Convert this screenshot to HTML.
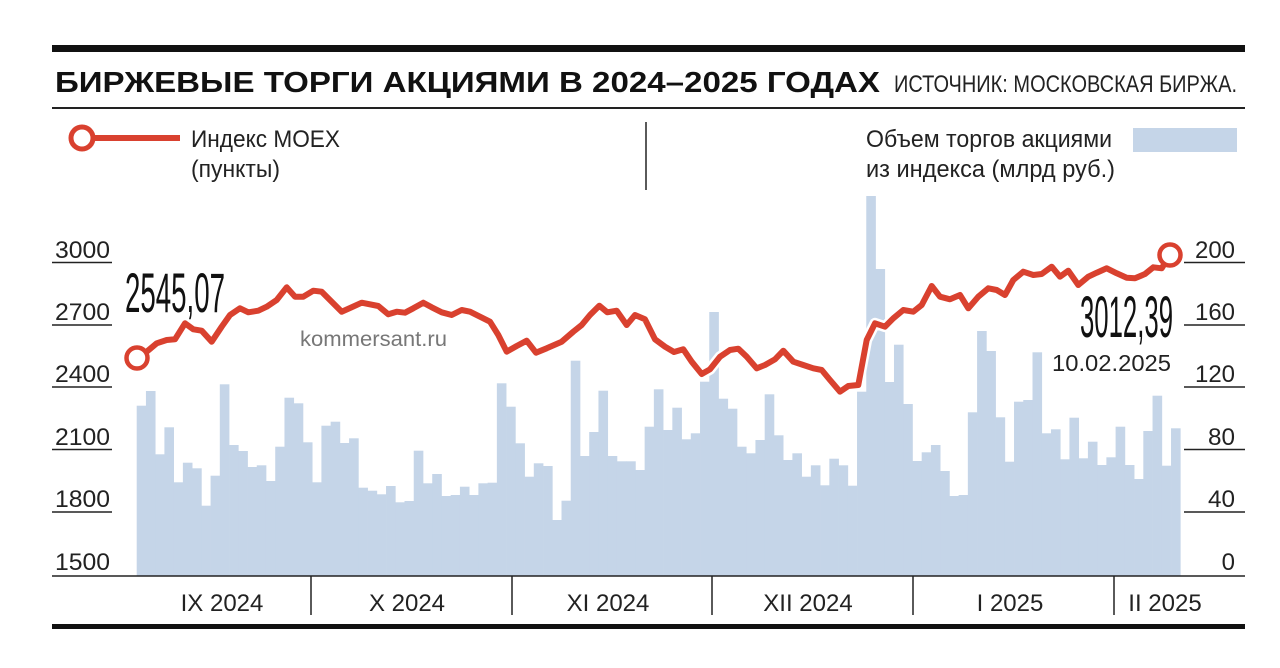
<!DOCTYPE html>
<html><head><meta charset="utf-8"><style>
html,body{margin:0;padding:0;background:#fff;}
svg{display:block;font-family:"Liberation Sans","DejaVu Sans",sans-serif;}
</style></head><body>
<svg width="1280" height="668" viewBox="0 0 1280 668" xmlns="http://www.w3.org/2000/svg">
<rect width="1280" height="668" fill="#fff"/>
<rect x="52" y="45" width="1193" height="7" fill="#111"/>
<text x="55" y="92" font-size="29" font-weight="900" textLength="825" lengthAdjust="spacingAndGlyphs" fill="#111">БИРЖЕВЫЕ ТОРГИ АКЦИЯМИ В 2024–2025 ГОДАХ</text>
<text x="894" y="92" font-size="24" textLength="343" lengthAdjust="spacingAndGlyphs" fill="#222">ИСТОЧНИК: МОСКОВСКАЯ БИРЖА.</text>
<rect x="52" y="107" width="1193" height="2" fill="#222"/>
<line x1="95" y1="138" x2="180" y2="138" stroke="#d9412f" stroke-width="6"/>
<circle cx="82" cy="138" r="11" fill="#fff" stroke="#d9412f" stroke-width="5"/>
<text x="191" y="147" font-size="24" textLength="149" lengthAdjust="spacingAndGlyphs" fill="#222">Индекс MOEX</text>
<text x="191" y="177" font-size="24" textLength="89" lengthAdjust="spacingAndGlyphs" fill="#222">(пункты)</text>
<line x1="646" y1="122" x2="646" y2="190" stroke="#222" stroke-width="1.5"/>
<text x="866" y="147" font-size="24" textLength="246" lengthAdjust="spacingAndGlyphs" fill="#222">Объем торгов акциями</text>
<text x="866" y="177" font-size="24" textLength="249" lengthAdjust="spacingAndGlyphs" fill="#222">из индекса (млрд руб.)</text>
<rect x="1133" y="128" width="104" height="24" fill="#c5d5e8"/>
<g fill="#c5d5e8" id="bars"></g>
<g font-size="24" fill="#222">
<text x="55" y="258" textLength="55" lengthAdjust="spacingAndGlyphs">3000</text>
<text x="55" y="320" textLength="55" lengthAdjust="spacingAndGlyphs">2700</text>
<text x="55" y="382" textLength="55" lengthAdjust="spacingAndGlyphs">2400</text>
<text x="55" y="445" textLength="55" lengthAdjust="spacingAndGlyphs">2100</text>
<text x="55" y="507" textLength="55" lengthAdjust="spacingAndGlyphs">1800</text>
<text x="55" y="570" textLength="55" lengthAdjust="spacingAndGlyphs">1500</text>
<text x="1235" y="258" text-anchor="end" textLength="40" lengthAdjust="spacingAndGlyphs">200</text>
<text x="1235" y="320" text-anchor="end" textLength="40" lengthAdjust="spacingAndGlyphs">160</text>
<text x="1235" y="382" text-anchor="end" textLength="40" lengthAdjust="spacingAndGlyphs">120</text>
<text x="1235" y="445" text-anchor="end" textLength="27" lengthAdjust="spacingAndGlyphs">80</text>
<text x="1235" y="507" text-anchor="end" textLength="27" lengthAdjust="spacingAndGlyphs">40</text>
<text x="1235" y="570" text-anchor="end">0</text>
</g>
<g stroke="#222" stroke-width="1.5">
<line x1="52" y1="262.5" x2="112" y2="262.5"/><line x1="52" y1="325" x2="112" y2="325"/><line x1="52" y1="387" x2="112" y2="387"/><line x1="52" y1="449.5" x2="112" y2="449.5"/><line x1="52" y1="512" x2="112" y2="512"/>
<line x1="1184" y1="262.5" x2="1245" y2="262.5"/><line x1="1184" y1="325" x2="1245" y2="325"/><line x1="1184" y1="387" x2="1245" y2="387"/><line x1="1184" y1="449.5" x2="1245" y2="449.5"/><line x1="1184" y1="512" x2="1245" y2="512"/>
<line x1="52" y1="576" x2="1245" y2="576"/>
<line x1="311" y1="576" x2="311" y2="615"/><line x1="512" y1="576" x2="512" y2="615"/><line x1="712" y1="576" x2="712" y2="615"/><line x1="913" y1="576" x2="913" y2="615"/><line x1="1114" y1="576" x2="1114" y2="615"/>
</g>
<text x="300" y="346" font-size="21" textLength="147" lengthAdjust="spacingAndGlyphs" fill="#777">kommersant.ru</text>
<g font-size="24" fill="#222" text-anchor="middle">
<text x="222" y="611">IX 2024</text><text x="407" y="611">X 2024</text><text x="608" y="611">XI 2024</text><text x="808" y="611">XII 2024</text><text x="1010" y="611">I 2025</text><text x="1165" y="611">II 2025</text>
</g>
<text x="125" y="312" font-size="56" textLength="100" lengthAdjust="spacingAndGlyphs" fill="#111">2545,07</text>
<text x="1080" y="337" font-size="58" textLength="93" lengthAdjust="spacingAndGlyphs" fill="#111">3012,39</text>
<text x="1052" y="371" font-size="23" textLength="119" lengthAdjust="spacingAndGlyphs" fill="#222">10.02.2025</text>
<rect x="52" y="624" width="1193" height="5" fill="#111"/>
<g id="lines"></g>
</svg>
<script>
var tops=[405.7,391,454.3,427.3,482.3,462.7,468.3,505.7,475.7,384.3,445,451,467,465.3,481,446.7,397.7,403.3,442.3,482.3,425.7,421.7,443,438.3,487.7,490.7,494.3,486,502.3,501,450.7,483.3,474,496,495,486.7,495,483.3,482.7,383.3,406.7,443.3,476.7,463.3,466,520,500.7,360.7,456,432,390.7,456,461.3,461.3,470,426.7,389.3,430,407.7,439.3,433.3,381.7,312,398.7,408.7,446.7,453.3,440,394.3,435.3,460,453.3,476.7,465.3,485.3,458.7,465.3,485.7,391.7,196,269,382,344.7,404,461,452.3,445,471,496,495,412.3,331,351,417.3,461.7,401.7,400,352.3,433.3,429.3,459.3,417.7,458.3,441.7,465,457.3,426.7,465,479,431,395.7,465.7,428.3];
var ns="http://www.w3.org/2000/svg",g=document.getElementById('bars');
for(var i=0;i<tops.length;i++){var r=document.createElementNS(ns,'rect');var x=136.7+i*9.235;r.setAttribute('x',x.toFixed(2));r.setAttribute('width','9.6');r.setAttribute('y',tops[i]);r.setAttribute('height',(576-tops[i]).toFixed(1));g.appendChild(r);}
var p="137,358 146.7,351.7 156.7,343.3 166.7,340 175,339.3 185,323.3 193.3,329.3 201.7,330.7 211.7,341.7 221.7,326.7 230,315 240,308.3 248.3,312.3 258.3,310.7 266.7,306.7 276.7,300 286.7,287.3 295,296.7 303.3,296.7 313.3,290.7 321.7,291.7 331.7,301.7 341.7,311.7 351.7,307.3 361.7,302.7 378.3,306 388.3,314.3 396.7,311.7 405,312.7 413.3,308.3 423.3,302.7 431.7,307.3 441.7,312.3 451.7,315 461.7,310 470,311.7 480,316.7 490,321.7 498.3,335 506.7,351.7 516.7,346 526.7,340.7 536,352.7 546.7,348.3 561.7,341.7 573.3,331.7 581.7,325 590,315 599.3,305.7 607.3,312.3 616.7,310.7 626.7,325 635,315 645,319.3 655,339.3 665,346.7 674,352 683.3,349.3 691.7,361.7 701.7,374 710,369.3 720,356.7 730,350 738.3,348.7 746.7,356.7 756.7,368.3 765,365 775,359.3 783.3,350.7 793.3,361.7 803.3,365 813.3,368.3 821.7,370 830,380 840,391.7 848.3,386 858.3,385 866.7,340 875,323.3 885,326.7 893.3,318.3 903.3,310 913.3,311.7 921.7,305 931.7,286 940,296.7 950,299.3 960,295 968.3,308.3 978.3,296.7 988.3,288.3 996.7,290 1005,295 1013.3,280 1023.3,271.7 1033.3,275 1041.7,274 1051.7,266.7 1060,276.7 1068.3,270.7 1078.3,285 1088.3,276.7 1096.7,272.7 1106.7,268.3 1116.7,273.3 1126.7,277.7 1135,278.3 1145,274 1153.3,267.3 1161.7,268.3 1170,255";
var L=document.getElementById('lines');
function pl(c,w){var e=document.createElementNS(ns,'polyline');e.setAttribute('points',p);e.setAttribute('fill','none');e.setAttribute('stroke',c);e.setAttribute('stroke-width',w);e.setAttribute('stroke-linejoin','round');e.setAttribute('stroke-linecap','round');L.appendChild(e);}
pl('#fff',11);pl('#d9412f',6);
[[137,358],[1170,255]].forEach(function(c){var e=document.createElementNS(ns,'circle');e.setAttribute('cx',c[0]);e.setAttribute('cy',c[1]);e.setAttribute('r','10.5');e.setAttribute('fill','#fff');e.setAttribute('stroke','#d9412f');e.setAttribute('stroke-width','4.5');L.appendChild(e);});
</script>
</body></html>
